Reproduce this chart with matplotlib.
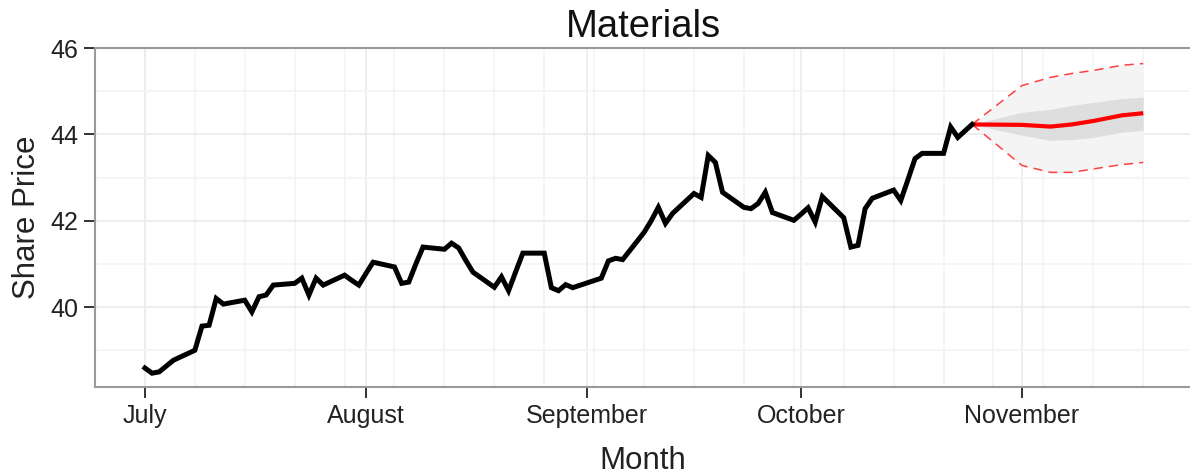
import numpy as np
import pandas as pd
import matplotlib
matplotlib.use("Agg")
import matplotlib.pyplot as plt
import matplotlib.dates as mdates

plt.rcParams['font.family'] = ['Liberation Sans', 'DejaVu Sans']

# ---------------- data ----------------
holidays = ['2013-07-04', '2013-09-02']
trade_days = pd.bdate_range('2013-07-01', '2013-10-25')
trade_days = trade_days[~trade_days.isin(pd.to_datetime(holidays))]

price_jul = [38.59, 38.47, 38.50, 38.77, 39.00, 39.56, 39.58, 40.20, 40.07, 40.16,
             39.89, 40.24, 40.28, 40.51, 40.55, 40.67, 40.28, 40.67, 40.51, 40.74,
             40.62, 40.51]
price_aug = [40.78, 41.04, 40.93, 40.55, 40.58, 41.00, 41.39, 41.34, 41.48, 41.37,
             41.08, 40.81, 40.46, 40.70, 40.38, 40.82, 41.25, 41.25, 40.45, 40.38,
             40.52, 40.45]
price_sep = [40.67, 41.07, 41.13, 41.10, 41.73, 42.00, 42.31, 41.94, 42.17, 42.63,
             42.54, 43.51, 43.35, 42.66, 42.31, 42.28, 42.40, 42.66, 42.19, 42.01]
price_oct = [42.15, 42.30, 41.97, 42.56, 42.07, 41.39, 41.43, 42.28, 42.52, 42.71,
             42.47, 42.95, 43.44, 43.56, 43.56, 44.17, 43.93, 44.08, 44.23]
price = price_jul + price_aug + price_sep + price_oct

fc_dates = pd.to_datetime(['2013-10-25', '2013-11-01', '2013-11-05', '2013-11-08',
                           '2013-11-11', '2013-11-15', '2013-11-18'])
fc_mean = [44.23, 44.22, 44.18, 44.23, 44.31, 44.44, 44.49]
fc_lo80 = [44.23, 43.98, 43.86, 43.88, 43.93, 44.05, 44.09]
fc_hi80 = [44.23, 44.51, 44.58, 44.67, 44.74, 44.83, 44.86]
fc_lo95 = [44.23, 43.28, 43.12, 43.12, 43.20, 43.30, 43.35]
fc_hi95 = [44.23, 45.13, 45.32, 45.41, 45.48, 45.60, 45.64]

month_ticks = pd.to_datetime(['2013-07-01', '2013-08-01', '2013-09-01',
                              '2013-10-01', '2013-11-01'])
month_labels = ['July', 'August', 'September', 'October', 'November']
y_ticks = [40, 42, 44, 46]

# ---------------- figure ----------------
W, H = 1190, 476
fig = plt.figure(figsize=(W / 100, H / 100), dpi=100)
L, R, T, B = 95, 1191, 48, 387
ax = fig.add_axes([L / W, 1 - B / H, (R - L) / W, (B - T) / H])

# grid
minor_x = pd.date_range('2013-07-01', '2013-11-25', freq='7D')
for d in minor_x:
    ax.axvline(d, color='#F4F4F4', lw=1.2, zorder=0)
for d in month_ticks:
    ax.axvline(d, color='#EBEBEB', lw=1.2, zorder=0)
for v in [39, 41, 43, 45]:
    ax.axhline(v, color='#F4F4F4', lw=1.2, zorder=0)
for v in y_ticks:
    ax.axhline(v, color='#EBEBEB', lw=1.2, zorder=0)

# forecast bands
ax.fill_between(fc_dates, fc_lo95, fc_hi95, color='#F4F4F4', lw=0, zorder=1)
ax.fill_between(fc_dates, fc_lo80, fc_hi80, color='#DEDEDE', lw=0, zorder=2)
ax.plot(fc_dates, fc_lo95, color='#FF4040', lw=1.1, ls=(0, (6, 4)), zorder=3)
ax.plot(fc_dates, fc_hi95, color='#FF4040', lw=1.1, ls=(0, (6, 4)), zorder=3)
ax.plot(fc_dates, fc_mean, color='#FF0000', lw=3.0, zorder=4, solid_capstyle='butt')

# history
ax.plot(trade_days, price, color='black', lw=3.6, zorder=5, solid_joinstyle='miter')

# axes
x0 = pd.Timestamp('2013-07-01') - pd.Timedelta(days=7.0)
x1 = pd.Timestamp('2013-11-01') + pd.Timedelta(days=23.7)
ax.set_xlim(x0, x1)
ax.set_ylim(38.15, 45.99)
ax.set_xticks(month_ticks)
ax.set_xticklabels(month_labels)
ax.set_yticks(y_ticks)
ax.set_yticklabels([str(v) for v in y_ticks])
ax.tick_params(axis='both', labelsize=18, colors='#333333', length=8, width=1.4,
               pad=4)
for lab in ax.get_xticklabels() + ax.get_yticklabels():
    lab.set_color('#222222')

for s in ['left', 'bottom', 'top']:
    ax.spines[s].set_color('#9A9A9A')
    ax.spines[s].set_linewidth(1.5)
ax.spines['right'].set_visible(False)
ax.set_facecolor('white')

ax.set_xlabel('Month', fontsize=22.5, color='#222222', labelpad=13)
ax.set_ylabel('Share Price', fontsize=22.5, color='#222222', labelpad=6)
ax.set_title('Materials', fontsize=27.5, color='#111111', pad=8)

fig.savefig('out.png', dpi=100)
